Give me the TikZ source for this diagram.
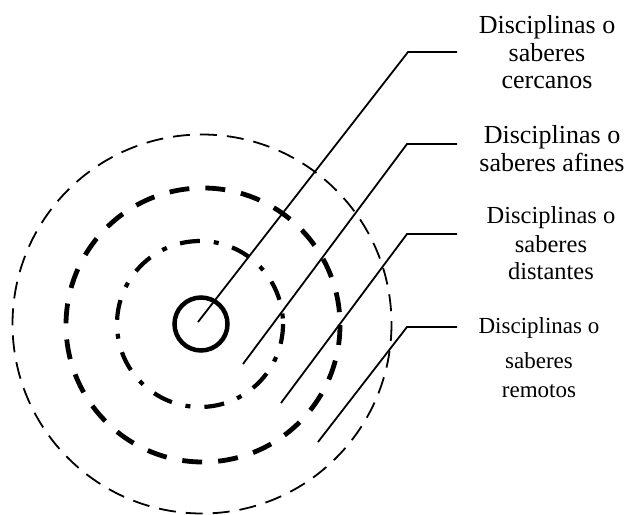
\documentclass[tikz,border=0pt]{standalone}
\usepackage{fontspec}
\setmainfont{Liberation Serif}
\begin{document}
\begin{tikzpicture}[x=1pt,y=-1pt,
  leader/.style={line width=1.8pt},
  core/.style={line width=4.5pt},
  ringnear/.style={line width=4.2pt,dash pattern=on 20pt off 14pt on 5pt off 14pt},
  ringmid/.style={line width=4.8pt,dash pattern=on 20pt off 16pt},
  ringfar/.style={line width=1.8pt,dash pattern=on 17pt off 10pt},
  lblA/.style={inner sep=0pt,anchor=base,font=\fontsize{26}{28}\selectfont},
  lblB/.style={inner sep=0pt,anchor=base,font=\fontsize{24.5}{28}\selectfont},
  lblC/.style={inner sep=0pt,anchor=base,font=\fontsize{23}{28}\selectfont}]
\useasboundingbox (0,0) rectangle (629,514);
% rings
\draw[ringfar] (202,324) circle[radius=189.5];
\draw[ringmid] (203,325) circle[radius=137];
\draw[ringnear] (200,324) circle[radius=83];
\draw[core] (201,324) circle[radius=26.5];
% leader coordinates
\coordinate (s1) at (198,322);
\coordinate (k1) at (408,52);
\coordinate (e1) at (457,52);
\coordinate (s2) at (243,364);
\coordinate (k2) at (407,144);
\coordinate (e2) at (457,144);
\coordinate (s3) at (281,403);
\coordinate (k3) at (407,234);
\coordinate (e3) at (457,234);
\coordinate (s4) at (318,442);
\coordinate (k4) at (407,327);
\coordinate (e4) at (457,327);
\draw[leader] (s1) -- (k1) -- (e1);
\draw[leader] (s2) -- (k2) -- (e2);
\draw[leader] (s3) -- (k3) -- (e3);
\draw[leader] (s4) -- (k4) -- (e4);
% labels
\node[lblA] (c1) at (547,33) {Disciplinas o};
\node[lblA] (c2) at (547,61) {saberes};
\node[lblA] (c3) at (547,88) {cercanos};
\node[lblA] (a1) at (552,143) {Disciplinas o};
\node[lblA] (a2) at (552,171) {saberes afines};
\node[lblB] (d1) at (551,223) {Disciplinas o};
\node[lblB] (d2) at (551,252) {saberes};
\node[lblB] (d3) at (551,279) {distantes};
\node[lblC] (r1) at (539,333) {Disciplinas o};
\node[lblC] (r2) at (539,368) {saberes};
\node[lblC] (r3) at (539,397) {remotos};
\end{tikzpicture}
\end{document}
